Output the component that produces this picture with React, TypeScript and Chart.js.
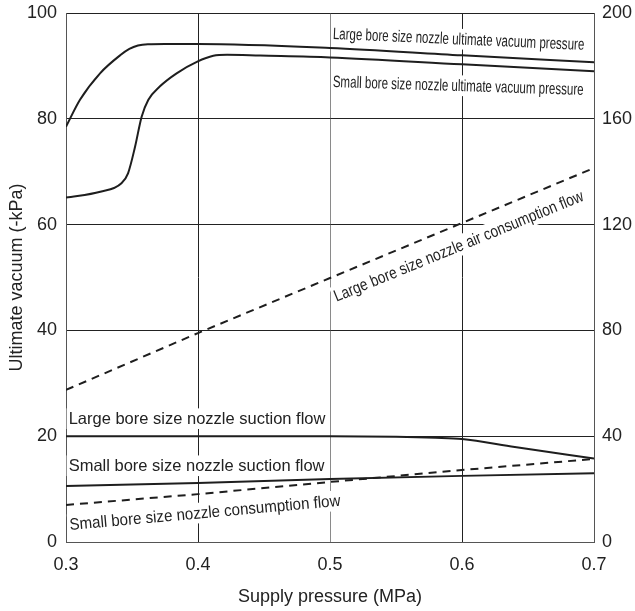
import React, { useEffect, useRef } from "react";
import { Chart, registerables } from "chart.js";

Chart.register(...registerables);

const FONT = "'Liberation Sans', Arial, Helvetica, sans-serif";
const INK = "#1e1e1e";

// X axis ticks (MPa)
const xTicks = [0.3, 0.4, 0.5, 0.6, 0.7];

// Large bore size nozzle ultimate vacuum pressure (-kPa)
const largeVacX = [0.3, 0.3106, 0.3258, 0.341, 0.348, 0.3545, 0.362, 0.375, 0.4, 0.5, 0.6, 0.7];
const largeVacY = [78.5, 83.6, 88.6, 92.0, 93.2, 93.85, 94.1, 94.15, 94.15, 93.4, 92.0, 90.7];

// Small bore size nozzle ultimate vacuum pressure (-kPa)
const smallVacX = [0.3, 0.326, 0.342, 0.347, 0.3523, 0.3573, 0.3624, 0.371, 0.3838, 0.3995, 0.4116, 0.422, 0.447, 0.5, 0.6, 0.7];
const smallVacY = [65.1, 66.2, 67.8, 69.7, 74.7, 80.4, 83.6, 86.1, 88.6, 90.8, 91.9, 92.1, 91.95, 91.6, 90.3, 89.0];

// Large bore size nozzle air consumption flow (right axis)
const largeAirX = [0.3, 0.4, 0.5, 0.6, 0.7];
const largeAirY = [57.5, 79.0, 99.8, 120.6, 141.4];

// Large bore size nozzle suction flow (right axis)
const largeSucX = [0.3, 0.4, 0.5, 0.55, 0.58, 0.6, 0.64, 0.7];
const largeSucY = [40.0, 40.0, 40.0, 39.8, 39.4, 38.9, 35.9, 31.6];

// Small bore size nozzle suction flow (right axis)
const smallSucX = [0.3, 0.4, 0.5, 0.6, 0.7];
const smallSucY = [21.2, 22.3, 23.8, 25.0, 26.0];

// Small bore size nozzle consumption flow (right axis)
const smallConsX = [0.3, 0.4, 0.5, 0.6, 0.7];
const smallConsY = [14.0, 18.1, 22.7, 27.2, 31.4];

// Curve labels: anchor (left end of baseline) in x / left-axis units
const labelTexts = [
  "Large bore size nozzle ultimate vacuum pressure",
  "Small bore size nozzle ultimate vacuum pressure",
  "Large bore size nozzle air consumption flow",
  "Large bore size nozzle suction flow",
  "Small bore size nozzle suction flow",
  "Small bore size nozzle consumption flow",
];
const labelX = [0.502, 0.502, 0.505, 0.302, 0.302, 0.303];
const labelY = [95.1, 86.0, 45.4, 22.3, 13.4, 2.27];
const labelAngle = [-2.5, -1.8, 22.3, 0, 0, 5.1];
const labelSize = [16.5, 16.5, 16.5, 16.5, 16.5, 16.5];
const labelStretch = [0.7, 0.7, 0.835, 1, 1, 0.915];

const zip = (xs: number[], ys: number[]) => xs.map((x, i) => ({ x, y: ys[i] }));

const labelPlugin = {
  id: "curveLabels",
  beforeDatasetsDraw(chart: any) {
    const { ctx, scales } = chart;
    labelTexts.forEach((t, i) => {
      const px = scales.x.getPixelForValue(labelX[i]);
      const py = scales.y.getPixelForValue(labelY[i]);
      const size = labelSize[i];
      ctx.save();
      ctx.translate(px, py);
      ctx.rotate((-labelAngle[i] * Math.PI) / 180);
      ctx.scale(labelStretch[i], 1);
      ctx.font = `${size}px ${FONT}`;
      const w = ctx.measureText(t).width;
      ctx.fillStyle = "#ffffff";
      ctx.fillRect(-2, -size * 0.95, w + 4, size * 1.25);
      ctx.fillStyle = "#222";
      ctx.textBaseline = "alphabetic";
      ctx.textAlign = "left";
      ctx.fillText(t, 0, 0);
      ctx.restore();
    });
  },
};

const noPad = (s: any) => {
  s.paddingTop = 0;
  s.paddingBottom = 0;
  s.paddingLeft = 0;
  s.paddingRight = 0;
};

export default function App() {
  const ref = useRef<HTMLCanvasElement | null>(null);

  useEffect(() => {
    if (!ref.current) return;
    const solid = (data: any[], axis: string, smooth: boolean) => ({
      data,
      yAxisID: axis,
      borderColor: INK,
      borderWidth: 2,
      pointRadius: 0,
      fill: false,
      cubicInterpolationMode: smooth ? ("monotone" as const) : ("default" as const),
      tension: 0,
    });
    const dashed = (data: any[], axis: string) => ({
      data,
      yAxisID: axis,
      borderColor: INK,
      borderWidth: 2,
      borderDash: [8, 6],
      pointRadius: 0,
      fill: false,
      tension: 0,
    });
    const tickFont = { family: FONT, size: 18 };
    const chart = new Chart(ref.current, {
      type: "line",
      data: {
        datasets: [
          solid(zip(largeVacX, largeVacY), "y", true),
          solid(zip(smallVacX, smallVacY), "y", true),
          dashed(zip(largeAirX, largeAirY), "y2"),
          solid(zip(largeSucX, largeSucY), "y2", true),
          solid(zip(smallSucX, smallSucY), "y2", false),
          dashed(zip(smallConsX, smallConsY), "y2"),
        ] as any,
      },
      options: {
        animation: false,
        responsive: false,
        maintainAspectRatio: false,
        layout: { padding: { top: 13, left: 0, right: 0, bottom: 0 } },
        plugins: { legend: { display: false }, tooltip: { enabled: false } },
        elements: { point: { radius: 0 } },
        scales: {
          x: {
            type: "linear",
            min: xTicks[0],
            max: xTicks[xTicks.length - 1],
            afterFit: (s: any) => {
              s.height = 69;
              noPad(s);
            },
            afterBuildTicks: (s: any) => {
              s.ticks = xTicks.map((v) => ({ value: v }));
            },
            ticks: {
              color: "#222",
              font: tickFont,
              padding: 12,
              callback: (v: any) => Number(v).toFixed(1),
            },
            grid: {
              drawTicks: false,
              lineWidth: 1,
              color: (c: any) =>
                c.tick && Math.abs(c.tick.value - 0.5) < 1e-6 ? "#8a8a8a" : "#222",
            },
            border: { color: "#555", width: 1 },
            title: {
              display: true,
              text: "Supply pressure (MPa)",
              color: "#222",
              font: tickFont,
              padding: { top: 0, bottom: 3 },
            },
          },
          y: {
            position: "left",
            min: 0,
            max: 100,
            afterFit: (s: any) => {
              s.width = 66;
              noPad(s);
            },
            ticks: { stepSize: 20, color: "#222", font: tickFont, padding: 9 },
            grid: { drawTicks: false, lineWidth: 1, color: "#222" },
            border: { color: "#555", width: 1 },
            title: {
              display: true,
              text: "Ultimate vacuum (-kPa)",
              color: "#222",
              font: tickFont,
              padding: { top: 6, bottom: 0 },
            },
          },
          y2: {
            position: "right",
            min: 0,
            max: 200,
            afterFit: (s: any) => {
              s.width = 41;
              noPad(s);
            },
            ticks: { stepSize: 40, color: "#222", font: tickFont, padding: 8 },
            grid: { drawOnChartArea: false, drawTicks: false },
            border: { color: "#555", width: 1 },
          },
        },
      } as any,
      plugins: [labelPlugin],
    });
    return () => chart.destroy();
  }, []);

  return (
    <div style={{ position: "absolute", left: 0, top: 0, width: 635, height: 611, background: "#fff" }}>
      <canvas ref={ref} width={635} height={611} style={{ display: "block" }} />
    </div>
  );
}
